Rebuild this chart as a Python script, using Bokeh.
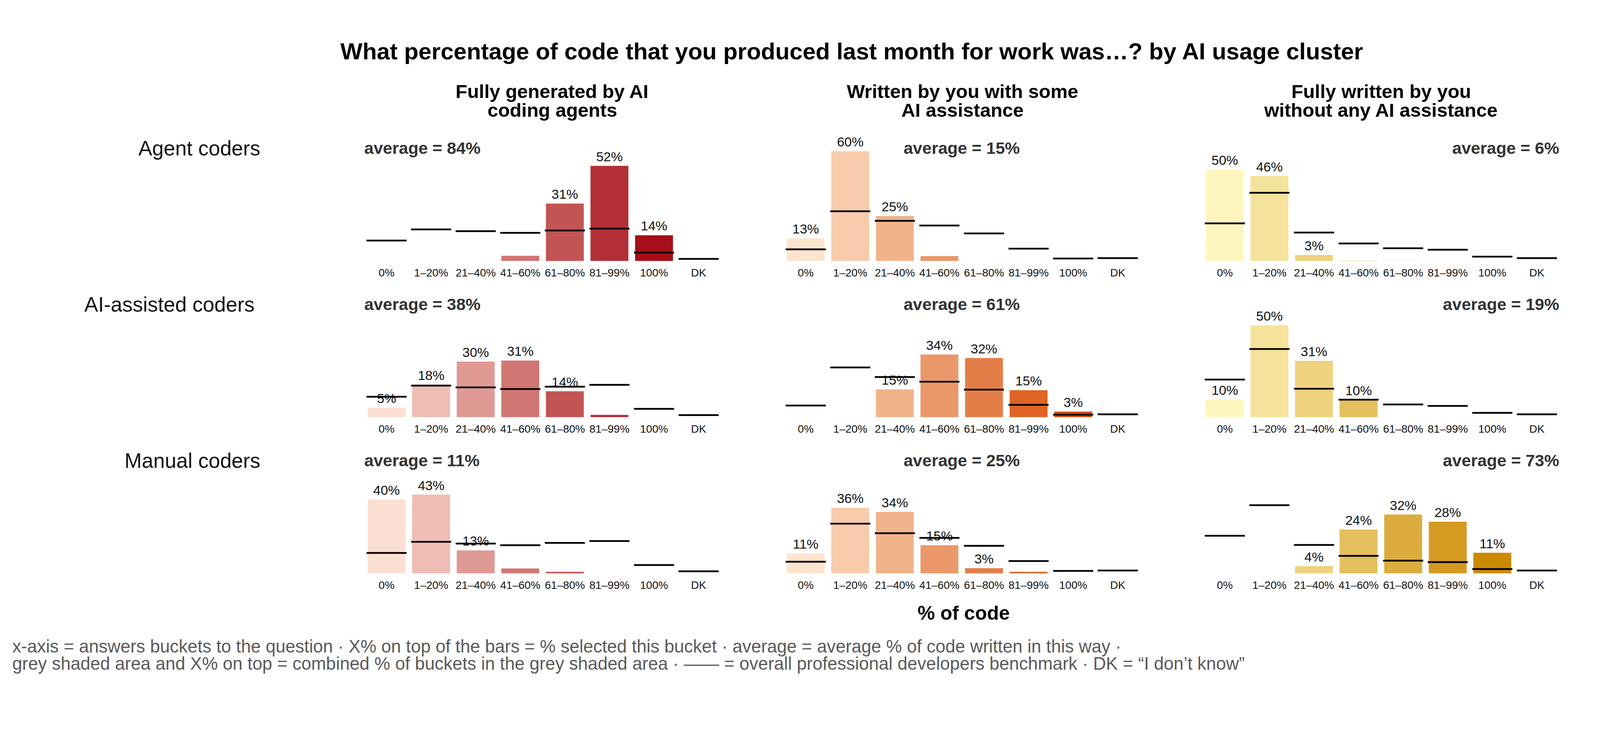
from bokeh.plotting import figure
from bokeh.models import ColumnDataSource, FactorRange, Range1d, Spacer
from bokeh.layouts import row, column
from bokeh.transform import dodge
from bokeh.core.properties import value
from bokeh.embed import file_html
from bokeh.resources import INLINE

FONT = "Liberation Sans"

# ---------------- data ----------------
cats = ["0%", "1\u201320%", "21\u201340%", "41\u201360%", "61\u201380%", "81\u201399%", "100%", "DK"]

col_titles = [["Fully generated by AI", "coding agents"],
              ["Written by you with some", "AI assistance"],
              ["Fully written by you", "without any AI assistance"]]
row_titles = ["Agent coders", "AI-assisted  coders", "Manual coders"]

# overall professional developers benchmark (same for every cluster)
bench_full_ai = [11.2, 17.3, 16.3, 15.4, 16.7, 17.7, 4.6, 1.2]
bench_some_ai = [6.4, 27.2, 22.0, 19.4, 15.1, 6.8, 1.4, 1.6]
bench_no_ai = [20.6, 37.3, 15.6, 9.6, 7.0, 6.2, 2.4, 1.6]

agent_full = [0, 0, 0, 2.9, 31.4, 52.0, 14.1, 0]
agent_some = [12.4, 60.0, 24.6, 2.7, 0, 0, 0, 0]
agent_none = [50.0, 46.5, 3.3, 0.2, 0.1, 0, 0, 0]
assist_full = [5.2, 17.9, 30.4, 31.0, 14.2, 1.3, 0, 0]
assist_some = [0, 0.1, 15.2, 34.3, 32.4, 14.8, 3.1, 0]
assist_none = [9.7, 50.2, 30.8, 9.4, 0, 0, 0, 0]
manual_full = [40.4, 43.1, 12.6, 2.7, 0.9, 0, 0, 0]
manual_some = [10.9, 35.9, 33.6, 15.4, 2.9, 0.9, 0, 0]
manual_none = [0, 0, 4.0, 24.0, 32.2, 28.3, 11.3, 0]

agent_full_lab = ["", "", "", "", "31%", "52%", "14%", ""]
agent_some_lab = ["13%", "60%", "25%", "", "", "", "", ""]
agent_none_lab = ["50%", "46%", "3%", "", "", "", "", ""]
assist_full_lab = ["5%", "18%", "30%", "31%", "14%", "", "", ""]
assist_some_lab = ["", "", "15%", "34%", "32%", "15%", "3%", ""]
assist_none_lab = ["10%", "50%", "31%", "10%", "", "", "", ""]
manual_full_lab = ["40%", "43%", "13%", "", "", "", "", ""]
manual_some_lab = ["11%", "36%", "34%", "15%", "3%", "", "", ""]
manual_none_lab = ["", "", "4%", "24%", "32%", "28%", "11%", ""]

averages = [[84, 15, 6], [38, 61, 19], [11, 25, 73]]

reds = ["#fcdfd3", "#efbdb3", "#e09a94", "#d07672", "#c25554", "#b33037", "#a50f19", "#999999"]
oranges = ["#fde5cd", "#f7cbac", "#f1b38a", "#ea986a", "#e47e48", "#df6425", "#d84a05", "#999999"]
yellows = ["#fef5bf", "#f5e39b", "#eed27e", "#e4bf5e", "#dcad3e", "#d49a22", "#cc8a00", "#999999"]

footer1 = ("x-axis = answers buckets to the question \u00b7 X% on top of the bars = % selected this bucket "
           "\u00b7 average = average % of code written in this way \u00b7")
footer2 = ("grey shaded area and X% on top = combined % of buckets in the grey shaded area \u00b7 "
           "\u2014\u2014 = overall professional developers benchmark \u00b7 DK = \u201cI don\u2019t know\u201d")

values = [[agent_full, agent_some, agent_none],
          [assist_full, assist_some, assist_none],
          [manual_full, manual_some, manual_none]]
labels = [[agent_full_lab, agent_some_lab, agent_none_lab],
          [assist_full_lab, assist_some_lab, assist_none_lab],
          [manual_full_lab, manual_some_lab, manual_none_lab]]
benches = [bench_full_ai, bench_some_ai, bench_no_ai]
palettes = [reds, oranges, yellows]

# ---------------- layout constants (CSS px) ----------------
TOTAL_W = 4070
LABEL_W = 932
PW = 913
GAP = 160
RH = 400
BOTTOM = 72
HEAD_H = 340
FOOT_H = 202
YMAX = 70
AVG_Y = 61.7
HEAD_DX = [25, 2, 1]


def blank_fig(w, h, yr):
    f = figure(width=w, height=h, x_range=Range1d(0, w), y_range=yr,
               x_axis_location=None, y_axis_location=None,
               toolbar_location=None, output_backend="svg",
               min_border=0, outline_line_color=None)
    f.grid.visible = False
    f.background_fill_color = "white"
    f.border_fill_color = "white"
    return f


def panel(vals, labs, bench, pal, avg, ci):
    p = figure(width=PW, height=RH, x_range=FactorRange(*cats), y_range=Range1d(0, YMAX),
               x_axis_location="below", y_axis_location=None,
               toolbar_location=None, output_backend="svg",
               min_border_left=0, min_border_right=0, min_border_top=0,
               min_border_bottom=BOTTOM, outline_line_color=None)
    p.x_range.range_padding = 0
    p.grid.visible = False
    p.background_fill_color = "white"
    p.border_fill_color = "white"
    ax = p.xaxis[0]
    ax.axis_line_color = None
    ax.major_tick_line_color = None
    ax.minor_tick_line_color = None
    ax.major_label_text_font = FONT
    ax.major_label_text_font_size = "28px"
    ax.major_label_text_color = "#111111"
    ax.major_label_standoff = 8

    src = ColumnDataSource(dict(cat=cats, val=vals, lab=labs, bench=bench, color=pal))
    p.vbar(x="cat", top="val", width=0.85, source=src, fill_color="color", line_color=None)
    p.text(x="cat", y="val", text="lab", source=src, text_align="center", text_baseline="bottom",
           y_offset=-5, text_font=value(FONT), text_font_size="34px", text_color="#111111")
    p.rect(x="cat", y="bench", width=0.9, height=4.5, height_units="screen", source=src,
           fill_color="black", line_color=None)

    anchor = [("0%", -0.5, "left"), ("41\u201360%", 0.5, "center"), ("DK", 0.5, "right")][ci]
    asrc = ColumnDataSource(dict(x=[anchor[0]], y=[AVG_Y], t=["average = %d%%" % avg]))
    p.text(x=dodge("x", anchor[1], range=p.x_range), y="y", text="t", source=asrc,
           text_align=anchor[2], text_baseline="middle", text_font=value(FONT),
           text_font_size="43px", text_font_style="bold", text_color="#333333")
    return p


# header
head = blank_fig(TOTAL_W, HEAD_H, Range1d(HEAD_H, 0))
head.text(x=[2181], y=[131], text=["What percentage of code that you produced last month for work was\u2026? by AI usage cluster"],
          text_align="center", text_baseline="middle", text_font=value(FONT),
          text_font_size="60px", text_font_style="bold", text_color="black")
for ci in range(3):
    cx = LABEL_W + ci * (PW + GAP) + PW / 2 + HEAD_DX[ci]
    head.text(x=[cx, cx], y=[233, 281], text=col_titles[ci], text_align="center", text_baseline="middle",
              text_font=value(FONT), text_font_size="49px", text_font_style="bold", text_color="black")

rows = []
for ri in range(3):
    lab = figure(width=LABEL_W, height=RH, x_range=Range1d(0, LABEL_W), y_range=Range1d(0, YMAX),
                 x_axis_location=None, y_axis_location=None, toolbar_location=None,
                 output_backend="svg", min_border_left=0, min_border_right=0, min_border_top=0,
                 min_border_bottom=BOTTOM, outline_line_color=None)
    lab.grid.visible = False
    lab.text(x=[666], y=[AVG_Y], text=[row_titles[ri]], text_align="right", text_baseline="middle",
             text_font=value(FONT), text_font_size="53px", text_color="#111111")
    kids = [lab]
    for ci in range(3):
        kids.append(panel(values[ri][ci], labels[ri][ci], benches[ci], palettes[ci], averages[ri][ci], ci))
        if ci < 2:
            kids.append(Spacer(width=GAP, height=RH))
    rows.append(row(*kids))

foot = blank_fig(TOTAL_W, FOOT_H, Range1d(FOOT_H, 0))
foot.text(x=[LABEL_W + PW + GAP + PW / 2 + 5], y=[29], text=["% of code"], text_align="center", text_baseline="middle",
          text_font=value(FONT), text_font_size="50px", text_font_style="bold", text_color="black")
foot.text(x=[31, 31], y=[115, 159], text=[footer1, footer2], text_align="left", text_baseline="middle",
          text_font=value(FONT), text_font_size="45.5px", text_color="#595959")

layout = column(head, *rows, foot)
open("out.html", "w").write(file_html(layout, INLINE))
